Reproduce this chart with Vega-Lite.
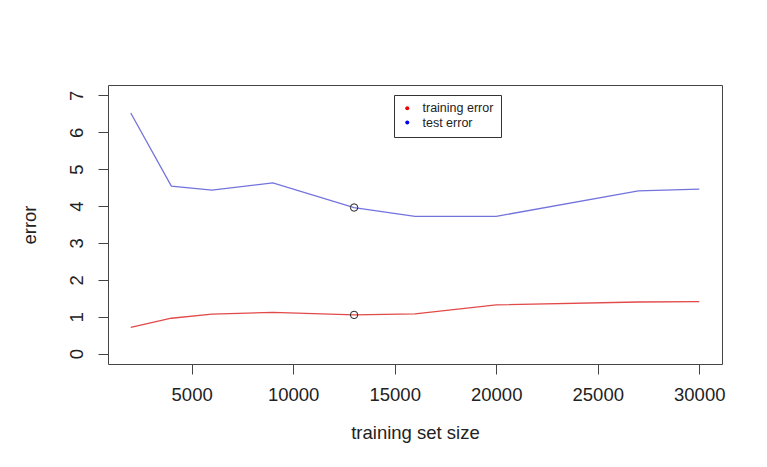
{
  "$schema": "https://vega.github.io/schema/vega-lite/v6.json",
  "width": 614,
  "height": 279,
  "autosize": {"type": "none"},
  "padding": {"left": 108, "top": 85, "right": 45, "bottom": 103},
  "background": "white",
  "config": {
    "view": {"stroke": "#444", "strokeWidth": 1},
    "font": "Liberation Sans",
    "axis": {
      "labelFont": "Liberation Sans",
      "titleFont": "Liberation Sans",
      "labelFontSize": 18.5,
      "titleFontSize": 18.5,
      "titleFontWeight": "normal",
      "labelColor": "#222",
      "titleColor": "#222",
      "tickColor": "#444",
      "tickSize": 10,
      "domain": false,
      "grid": false
    }
  },
  "data": {
    "values": [
      {"size": 2000, "error": 0.71, "series": "training error"},
      {"size": 4000, "error": 0.96, "series": "training error"},
      {"size": 6000, "error": 1.07, "series": "training error"},
      {"size": 9000, "error": 1.12, "series": "training error"},
      {"size": 13000, "error": 1.05, "series": "training error"},
      {"size": 16000, "error": 1.08, "series": "training error"},
      {"size": 20000, "error": 1.32, "series": "training error"},
      {"size": 27000, "error": 1.40, "series": "training error"},
      {"size": 30000, "error": 1.41, "series": "training error"},
      {"size": 2000, "error": 6.52, "series": "test error"},
      {"size": 4000, "error": 4.54, "series": "test error"},
      {"size": 6000, "error": 4.43, "series": "test error"},
      {"size": 9000, "error": 4.63, "series": "test error"},
      {"size": 13000, "error": 3.96, "series": "test error"},
      {"size": 16000, "error": 3.72, "series": "test error"},
      {"size": 20000, "error": 3.72, "series": "test error"},
      {"size": 27000, "error": 4.41, "series": "test error"},
      {"size": 30000, "error": 4.46, "series": "test error"}
    ]
  },
  "encoding": {
    "x": {
      "field": "size",
      "type": "quantitative",
      "scale": {"domain": [880, 31120], "nice": false, "zero": false},
      "axis": {
        "values": [5000, 10000, 15000, 20000, 25000, 30000],
        "format": "d",
        "labelPadding": 11,
        "title": "training set size",
        "titlePadding": 20
      }
    },
    "y": {
      "field": "error",
      "type": "quantitative",
      "scale": {"domain": [-0.28, 7.28], "nice": false, "zero": false},
      "axis": {
        "values": [0, 1, 2, 3, 4, 5, 6, 7],
        "labelAngle": 270,
        "labelAlign": "center",
        "labelBaseline": "alphabetic",
        "labelPadding": 16,
        "title": "error",
        "titlePadding": 28
      }
    }
  },
  "layer": [
    {
      "mark": {"type": "line", "strokeWidth": 1.3},
      "encoding": {
        "color": {
          "field": "series",
          "type": "nominal",
          "scale": {"domain": ["training error", "test error"], "range": ["#e24a4a", "#7373de"]},
          "legend": {
            "title": null,
            "orient": "none",
            "legendX": 286,
            "legendY": 10,
            "symbolType": "circle",
            "symbolSize": 16,
            "symbolOpacity": 1,
            "symbolStrokeWidth": 0,
            "labelFont": "Liberation Sans",
            "labelFontSize": 12.5,
            "labelColor": "#222",
            "labelOffset": 9,
            "padding": 7,
            "rowPadding": 1.3,
            "strokeColor": "#333",
            "encode": {
              "symbols": {"update": {"fill": {"signal": "datum.value === 'test error' ? '#0000ee' : '#ee0000'"}, "opacity": {"value": 1}}}
            }
          }
        }
      }
    },
    {
      "transform": [{"filter": "datum.size == 13000"}],
      "mark": {"type": "point", "shape": "circle", "filled": false, "size": 55, "stroke": "#222", "strokeWidth": 1, "opacity": 1}
    }
  ]
}
